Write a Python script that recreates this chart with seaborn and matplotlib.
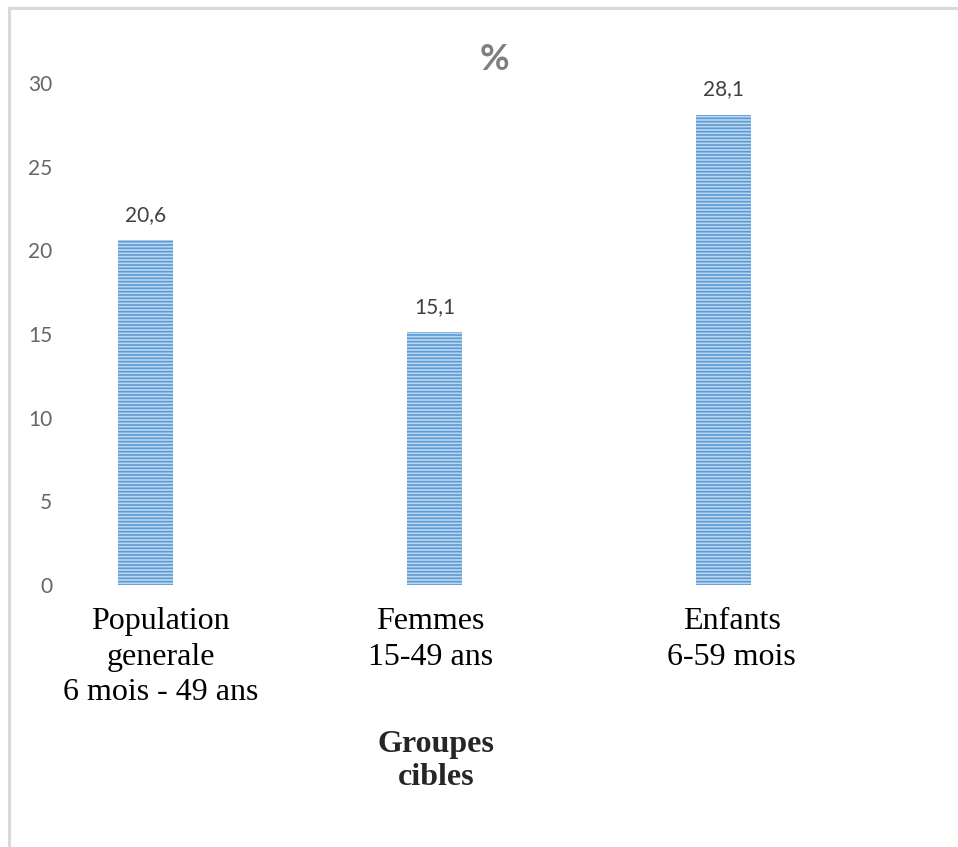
import matplotlib
matplotlib.use("Agg")
import matplotlib.pyplot as plt
from matplotlib.patches import Rectangle
from matplotlib.transforms import ScaledTranslation
import seaborn as sns
import pandas as pd

categories = ["Population\ngenerale\n6 mois - 49 ans", "Femmes\n15-49 ans", "Enfants\n6-59 mois"]
values = [20.6, 15.1, 28.1]
y_ticks = [0, 5, 10, 15, 20, 25, 30]
title = "%"
x_title = "Groupes\ncibles"

df = pd.DataFrame({"groupe": categories, "valeur": values})

sns.set_theme(style="white")
plt.rcParams["font.family"] = ["Lato", "DejaVu Sans"]
plt.rcParams["hatch.linewidth"] = 1.2

W, H = 958, 847
fig = plt.figure(figsize=(W / 100, H / 100), dpi=100)
fig.patch.set_facecolor("white")

# chart frame
fig.add_artist(Rectangle((9 / W, -0.05), 1.2, 1 - 8 / H + 0.05, transform=fig.transFigure,
                         facecolor="none", edgecolor="#d9d9d9", linewidth=2.2))

# plot area: y=0 at 585 px, y=30 at 83 px
y0, y30 = 585, 83
px_per_unit = (y0 - y30) / 30
ymax = 31.5
top_px = y0 - ymax * px_per_unit
ax_left, ax_right = 55, 905
ax = fig.add_axes([ax_left / W, (H - y0) / H, (ax_right - ax_left) / W, (y0 - top_px) / H])

sns.barplot(data=df, x="groupe", y="valeur", ax=ax, width=0.19,
            color="#bcd6ef", saturation=1, edgecolor="#5b9bd5", linewidth=0)
for p in ax.patches:
    p.set_hatch("-----")
    p.set_edgecolor("#5b9bd5")
    p.set_linewidth(0)

# x positions: centers 145.5, 434, 723.5 px
step = 289
ax.set_xlim((ax_left - 145.5) / step, (ax_right - 145.5) / step)
ax.set_ylim(0, ymax)
ax.set_yticks(y_ticks)
ax.set_yticklabels([str(t) for t in y_ticks], color="#666666", fontsize=15)
ax.tick_params(axis="y", length=0, pad=2)
ax.tick_params(axis="x", length=0, pad=16)
label_shift = [15, -4, 8]
for lbl, dx in zip(ax.get_xticklabels(), label_shift):
    lbl.set_fontfamily("Liberation Serif")
    lbl.set_fontsize(23)
    lbl.set_color("black")
    lbl.set_linespacing(1.3)
    lbl.set_transform(lbl.get_transform() + ScaledTranslation(dx / 100, 0, fig.dpi_scale_trans))
for s in ax.spines.values():
    s.set_visible(False)
ax.set_xlabel("")
ax.set_ylabel("")

ax.bar_label(ax.containers[0], labels=[f"{v:.1f}".replace(".", ",") for v in values],
             padding=11, color="#404040", fontsize=15)

fig.text(494 / W, 1 - 60 / H, title, ha="center", va="center", fontsize=26,
         fontweight="bold", color="#7f7f7f")
fig.text(436 / W, 1 - 761 / H, x_title, ha="center", va="center", fontsize=23,
         fontweight="bold", family="Liberation Serif", linespacing=1.22)

fig.savefig("out.png", dpi=100)
